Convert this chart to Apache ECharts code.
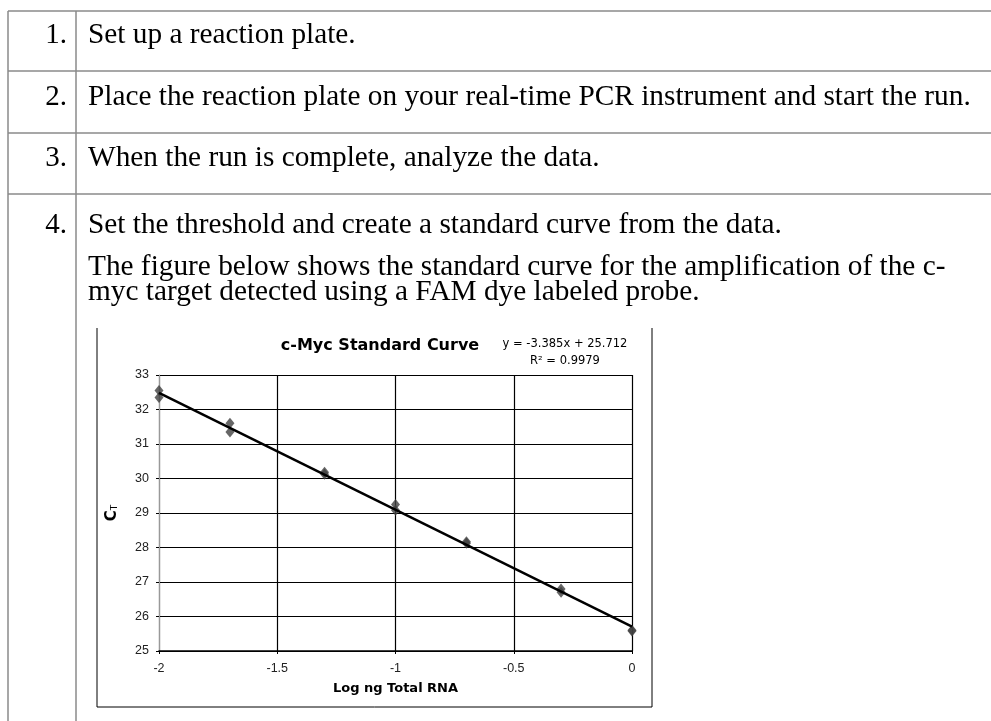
<!DOCTYPE html>
<html>
<head>
<meta charset="utf-8">
<title>c-Myc Standard Curve</title>
<script src="https://cdn.jsdelivr.net/npm/echarts@6/dist/echarts.min.js"></script>
<style>
  html, body { margin: 0; padding: 0; background: #fff; }
  #chart { width: 991px; height: 721px; }
</style>
</head>
<body>
<div id="chart"></div>
<script>
// log ng total RNA (x) and Ct values (two replicates per dilution)
const logRna = [-2, -2, -1.7, -1.7, -1.3, -1.3, -1, -1, -0.7, -0.7, -0.3, -0.3, 0, 0];
const ctValues = [32.55, 32.35, 31.6, 31.35, 30.18, 30.12, 29.25, 29.08, 28.17, 28.12, 26.8, 26.7, 25.6, 25.58];
// fitted line end points, y = -3.385x + 25.712
const trendX = [-2, 0];
const trendY = [32.48, 25.71];
const equationText = ['y = -3.385x + 25.712', 'R\u00b2 = 0.9979'];

// step table text
const stepNums = ['1.', '2.', '3.', '4.'];
const stepLines = [
  ['Set up a reaction plate.'],
  ['Place the reaction plate on your real-time PCR instrument and start the run.'],
  ['When the run is complete, analyze the data.'],
  ['Set the threshold and create a standard curve from the data.',
   'The figure below shows the standard curve for the amplification of the c-',
   'myc target detected using a FAM dye labeled probe.']
];
const stepBaselines = [[45], [107], [168], [235, 277, 302]];
const rowLines = [11, 71, 133, 194];

const serif = '"Liberation Serif", "Times New Roman", serif';
const sans = '"DejaVu Sans", sans-serif';
const tickFont = '"Liberation Sans", Arial, sans-serif';

function tableGraphics() {
  let g = [];
  const lineStyle = { stroke: '#8a8a8a', lineWidth: 1.5 };
  rowLines.forEach(y => {
    g.push({ type: 'line', shape: { x1: 8, y1: y, x2: 991, y2: y }, style: lineStyle, silent: true });
  });
  [8, 76].forEach(x => {
    g.push({ type: 'line', shape: { x1: x, y1: 11, x2: x, y2: 721 }, style: lineStyle, silent: true });
  });
  stepNums.forEach((n, i) => {
    g.push({
      type: 'text', x: 67, y: stepBaselines[i][0] - 10,
      style: { text: n, font: '29px ' + serif, fill: '#000', align: 'right', verticalAlign: 'middle' }
    });
    stepLines[i].forEach((t, j) => {
      g.push({
        type: 'text', x: 88, y: stepBaselines[i][j] - 10,
        style: { text: t, font: '29.3px ' + serif, fill: '#000', align: 'left', verticalAlign: 'middle' }
      });
    });
  });
  // frame round the figure
  const frame = { stroke: '#000', lineWidth: 1 };
  g.push({ type: 'polyline', shape: { points: [[97, 328], [97, 707], [652, 707], [652, 328]] }, style: Object.assign({ fill: null }, frame), silent: true });
  return g;
}

const chart = echarts.init(document.getElementById('chart'));
chart.setOption({
  animation: false,
  backgroundColor: '#fff',
  title: [
    {
      text: 'c-Myc Standard Curve',
      left: 375, top: 333, textAlign: 'center',
      textStyle: { fontFamily: sans, fontSize: 16, fontWeight: 'bold', color: '#000' }
    },
    {
      text: equationText.join('\n'),
      left: 560, top: 331, textAlign: 'center',
      textStyle: { fontFamily: sans, fontSize: 11.5, fontWeight: 'normal', color: '#000', lineHeight: 17 }
    }
  ],
  grid: { left: 159, top: 375, width: 473, height: 276 },
  xAxis: {
    type: 'value', min: -2, max: 0, interval: 0.5,
    name: 'Log ng Total RNA', nameLocation: 'middle', nameGap: 31,
    nameTextStyle: { fontFamily: sans, fontSize: 13, fontWeight: 'bold', color: '#000' },
    axisLine: { show: true, onZero: false, lineStyle: { color: '#000', width: 1.5 } },
    axisTick: { show: true, length: 3, lineStyle: { color: '#000' } },
    axisLabel: { fontFamily: tickFont, fontSize: 12.5, color: '#222', margin: 11 },
    splitLine: { show: true, lineStyle: { color: '#000', width: 1.2 } }
  },
  yAxis: {
    type: 'value', min: 25, max: 33, interval: 1,
    name: '{c|C}{t|T}', nameLocation: 'middle', nameGap: 38, nameRotate: 90,
    nameTextStyle: {
      rich: {
        c: { fontFamily: sans, fontSize: 15, fontWeight: 'bold', color: '#000', lineHeight: 18, verticalAlign: 'middle' },
        t: { fontFamily: sans, fontSize: 9, color: '#000', lineHeight: 18, verticalAlign: 'bottom', padding: [0, 0, 2, 0] }
      }
    },
    axisLine: { show: true, onZero: false, lineStyle: { color: '#999', width: 1 } },
    axisTick: { show: true, length: 3, lineStyle: { color: '#000' } },
    axisLabel: { fontFamily: tickFont, fontSize: 12.5, color: '#222', margin: 10 },
    splitLine: { show: true, lineStyle: { color: '#000', width: 1.2 } }
  },
  series: [
    {
      type: 'scatter',
      data: logRna.map((x, i) => [x, ctValues[i]]),
      symbol: 'diamond', symbolSize: [9, 11],
      itemStyle: { color: '#404040' },
      z: 2
    },
    {
      type: 'line',
      data: trendX.map((x, i) => [x, trendY[i]]),
      showSymbol: false,
      lineStyle: { color: '#000', width: 2.5 },
      z: 3
    }
  ],
  graphic: tableGraphics()
});
</script>
</body>
</html>
